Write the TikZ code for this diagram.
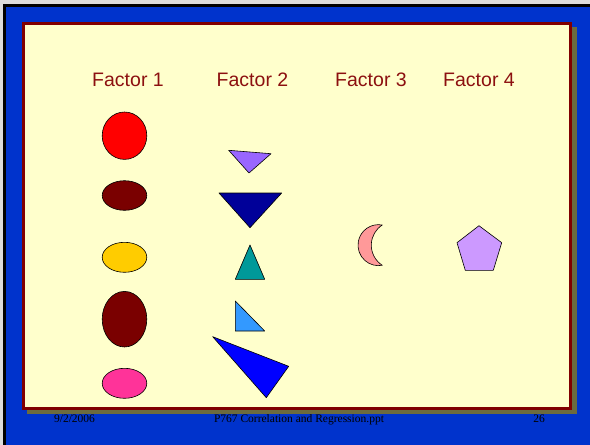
\documentclass[tikz,border=0pt]{standalone}
\usepackage{fontspec}
\setmainfont{Liberation Serif}
\newfontfamily\arialf{Liberation Sans}
\definecolor{pagegray}{HTML}{DCDCDC}
\definecolor{slideblue}{HTML}{0033CC}
\definecolor{cream}{HTML}{FFFFCC}
\definecolor{frame}{HTML}{800000}
\definecolor{shadowc}{HTML}{6B6B3F}
\definecolor{titlered}{HTML}{8C1010}
\definecolor{cred}{HTML}{FF0000}
\definecolor{cmaroon}{HTML}{7A0000}
\definecolor{cyellow}{HTML}{FFCC00}
\definecolor{cpink}{HTML}{FF3399}
\definecolor{tpurple}{HTML}{9966FF}
\definecolor{tnavy}{HTML}{000099}
\definecolor{tteal}{HTML}{009999}
\definecolor{tsky}{HTML}{3399FF}
\definecolor{tblue}{HTML}{0000FF}
\definecolor{moonc}{HTML}{FF9999}
\definecolor{pentc}{HTML}{CC99FF}
\tikzset{
  shp/.style={draw=black, line width=0.6pt, line join=round},
  heading/.style={font=\arialf\fontsize{19.5}{22}\selectfont, text=titlered, anchor=base, inner sep=0pt},
  foot/.style={font=\fontsize{11.5}{13}\selectfont, text=black, anchor=base, inner sep=0pt}
}
\begin{document}
\begin{tikzpicture}[x=1pt,y=-1pt]
\useasboundingbox (0,0) rectangle (590,445);
% slide background
\fill[pagegray] (0,0) rectangle (590,445);
\fill[black] (3,4) rectangle (590,445);
\fill[slideblue] (6,6.5) rectangle (590,445);
% panel shadow and panel
\fill[shadowc] (27,27) rectangle (577,414);
\fill[cream] (22,22) rectangle (572,410);
\draw[frame, line width=3pt] (23.5,23.5) rectangle (570.5,408.5);
% headings
\node[heading] (f1) at (128,86) {Factor 1};
\node[heading] (f2) at (252.5,86) {Factor 2};
\node[heading] (f3) at (371,86) {Factor 3};
\node[heading] (f4) at (479,86) {Factor 4};
% factor 1: ellipses
\draw[shp, fill=cred] (124.5,135.7) ellipse [x radius=22.3, y radius=23.7];
\draw[shp, fill=cmaroon] (124.5,195.5) ellipse [x radius=22.3, y radius=14.8];
\draw[shp, fill=cyellow] (124.5,257.3) ellipse [x radius=22.3, y radius=15];
\draw[shp, fill=cmaroon] (124.5,319.2) ellipse [x radius=22.3, y radius=27.8];
\draw[shp, fill=cpink] (124.5,383.3) ellipse [x radius=22.3, y radius=15];
% factor 2: triangles
\draw[shp, fill=tpurple] (228.7,150.3) -- (271,153.7) -- (249,173) -- cycle;
\draw[shp, fill=tnavy] (219,193) -- (281.7,193) -- (250,227.7) -- cycle;
\draw[shp, fill=tteal] (250,245) -- (264.7,279.3) -- (235.3,279.3) -- cycle;
\draw[shp, fill=tsky] (235.3,301) -- (264.7,331) -- (235.3,331) -- cycle;
\draw[shp, fill=tblue] (212.7,336.7) -- (288.7,366.3) -- (266.3,397.7) -- cycle;
% factor 3: moon
\draw[shp, fill=moonc] (382.3,225) arc[start angle=-79.3, end angle=-280.7, radius=20.5]
  arc[start angle=122.7, end angle=237.3, radius=23.95] -- cycle;
% factor 4: pentagon
\draw[shp, fill=pentc] (479,225.7) -- (501.7,242.7) -- (493.3,270.3) -- (465.3,270.3) -- (457,242.7) -- cycle;
% footer
\node[foot] (date) at (74.5,422.5) {9/2/2006};
\node[foot] (title) at (299,422.5) {P767 Correlation and Regression.ppt};
\node[foot] (page) at (539,422.5) {26};
\end{tikzpicture}
\end{document}
